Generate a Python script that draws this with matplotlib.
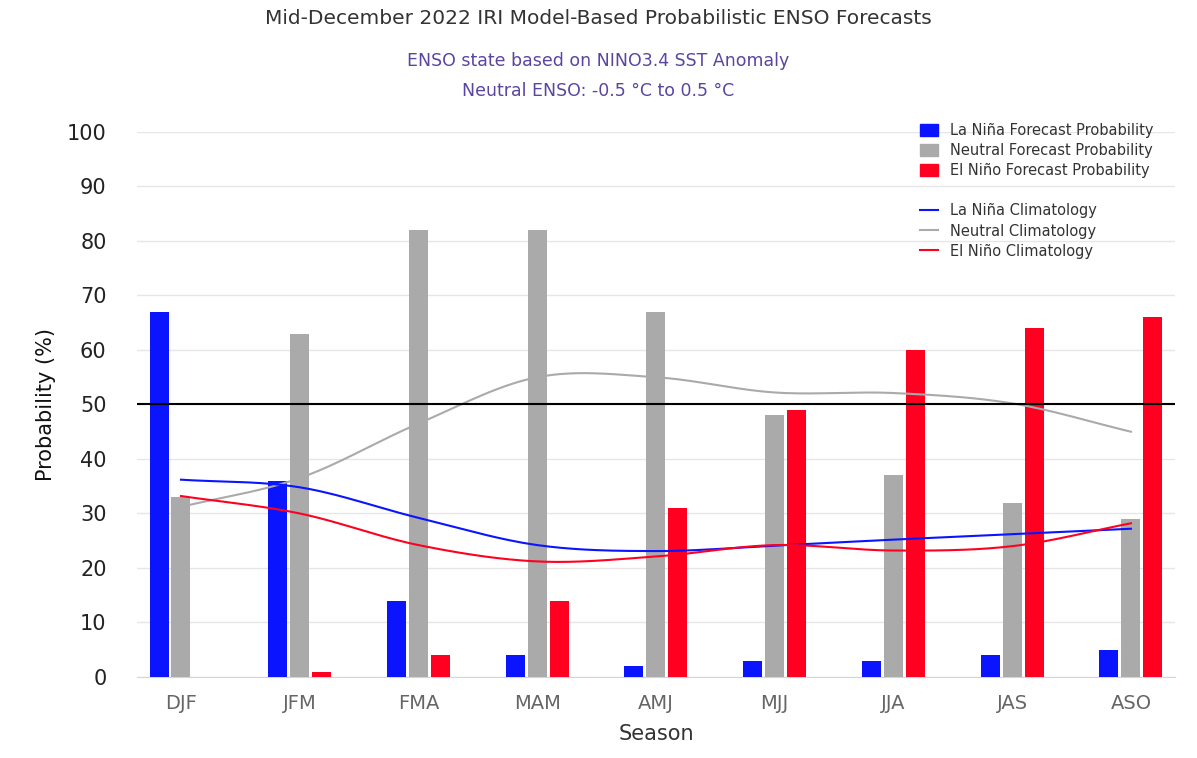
import matplotlib.pyplot as plt
import numpy as np
from matplotlib.lines import Line2D
from matplotlib.patches import Patch

seasons = ['DJF', 'JFM', 'FMA', 'MAM', 'AMJ', 'MJJ', 'JJA', 'JAS', 'ASO']
lanina = [67, 36, 14, 4, 2, 3, 3, 4, 5]
neutral = [33, 63, 82, 82, 67, 48, 37, 32, 29]
elnino = [0, 1, 4, 14, 31, 49, 60, 64, 66]
clim_lanina = [36.2, 34.8, 29.2, 24.2, 23.1, 24.1, 25.2, 26.2, 27.2]
clim_neutral = [31.2, 36.5, 46.5, 55.0, 55.0, 52.2, 52.1, 50.2, 45.0]
clim_elnino = [33.2, 30.0, 24.2, 21.2, 22.1, 24.2, 23.2, 24.0, 28.2]

c_blue = '#0a14ff'
c_gray = '#aaaaaa'
c_red = '#ff0021'


def smooth(y, n=30):
    # catmull-rom curve through the points (drawing only)
    y = np.asarray(y, float)
    p = np.concatenate([[2*y[0]-y[1]], y, [2*y[-1]-y[-2]]])
    xs, ys = [], []
    for i in range(len(y)-1):
        t = np.linspace(0, 1, n, endpoint=False)
        p0, p1, p2, p3 = p[i], p[i+1], p[i+2], p[i+3]
        v = 0.5*((2*p1) + (-p0+p2)*t + (2*p0-5*p1+4*p2-p3)*t**2 + (-p0+3*p1-3*p2+p3)*t**3)
        xs.append(i+t); ys.append(v)
    xs.append([len(y)-1]); ys.append([y[-1]])
    return np.concatenate(xs), np.concatenate(ys)


fig = plt.figure(figsize=(11.97, 7.58), dpi=100)
ax = fig.add_axes([0.1145, 0.1069, 0.867, 0.719])

x = np.arange(len(seasons))
w = 0.16
off = 0.185
ax.bar(x-off, lanina, w, color=c_blue, zorder=3)
ax.bar(x, neutral, w, color=c_gray, zorder=3)
ax.bar(x+off, elnino, w, color=c_red, zorder=3)

for c, d in [(c_gray, clim_neutral), (c_blue, clim_lanina), (c_red, clim_elnino)]:
    sx, sy = smooth(d)
    ax.plot(sx, sy, color=c, lw=1.5, zorder=4)

ax.axhline(50, color='black', lw=1.5, zorder=4)
ax.set_xlim(-0.37, 8.37)
ax.set_ylim(0, 100)
ax.set_yticks(range(0, 101, 10))
ax.set_xticks(x)
ax.set_xticklabels(seasons)
ax.grid(axis='y', color='#e6e6e6', lw=1, zorder=0)
for s in ['top', 'right', 'left']:
    ax.spines[s].set_visible(False)
ax.spines['bottom'].set_color('#ccd6eb')
ax.tick_params(axis='x', length=0, labelsize=14, labelcolor='#666666', pad=12)
ax.tick_params(axis='y', length=0, labelsize=15, labelcolor='#222222', pad=22)
ax.set_xlabel('Season', fontsize=15, color='#333333', labelpad=8)
ax.set_ylabel('Probability (%)', fontsize=15, color='#111111', labelpad=8)

fig.text(0.5, 0.975, 'Mid-December 2022 IRI Model-Based Probabilistic ENSO Forecasts',
         ha='center', va='center', fontsize=14.5, color='#333333')
fig.text(0.5, 0.92, 'ENSO state based on NINO3.4 SST Anomaly',
         ha='center', va='center', fontsize=12.5, color='#5a45a0')
fig.text(0.5, 0.88, 'Neutral ENSO: -0.5 °C to 0.5 °C',
         ha='center', va='center', fontsize=12.5, color='#5a45a0')

handles = [Patch(color=c_blue, label='La Niña Forecast Probability'),
           Patch(color=c_gray, label='Neutral Forecast Probability'),
           Patch(color=c_red, label='El Niño Forecast Probability'),
           Line2D([], [], color='none', label=' '),
           Line2D([], [], color=c_blue, lw=1.5, label='La Niña Climatology'),
           Line2D([], [], color=c_gray, lw=1.5, label='Neutral Climatology'),
           Line2D([], [], color=c_red, lw=1.5, label='El Niño Climatology')]
leg = fig.legend(handles=handles, loc='upper left', bbox_to_anchor=(0.758, 0.855),
                 frameon=False, fontsize=10.5, handlelength=1.2, handleheight=0.9,
                 labelspacing=0.35, labelcolor='#333333')

fig.savefig('out.png', dpi=100)
